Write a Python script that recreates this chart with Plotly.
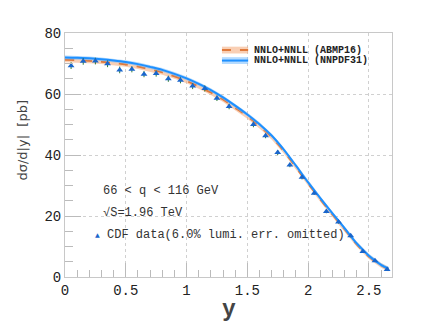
import plotly.graph_objects as go

# theory curves (NNLO+NNLL), central values and band half-widths
y_theory = [0.0, 0.1, 0.2, 0.3, 0.4, 0.5, 0.6, 0.7, 0.8, 0.9, 1.0, 1.1, 1.2, 1.3,
            1.4, 1.5, 1.6, 1.7, 1.8, 1.9, 2.0, 2.1, 2.2, 2.3, 2.4, 2.5, 2.6, 2.66]
nnpdf31 = [72.0, 71.9, 71.7, 71.4, 71.0, 70.5, 69.8, 68.9, 67.9, 66.6, 65.1, 63.3, 61.3, 58.9,
           56.2, 53.3, 50.1, 46.4, 41.8, 36.5, 31.0, 25.9, 20.9, 16.0, 11.0, 7.0, 4.0, 2.8]
abmp16 = [71.2, 71.1, 70.9, 70.6, 70.2, 69.7, 69.0, 68.1, 67.1, 65.8, 64.3, 62.5, 60.5, 58.2,
          55.5, 52.7, 49.5, 45.9, 41.3, 36.0, 30.6, 25.5, 20.5, 15.7, 10.7, 6.7, 3.8, 2.6]
nnpdf31_err = 0.6
abmp16_err = 0.8

# CDF data
y_cdf = [0.05, 0.15, 0.25, 0.35, 0.45, 0.55, 0.65, 0.75, 0.85, 0.95, 1.05, 1.15, 1.25, 1.35,
         1.55, 1.65, 1.75, 1.85, 1.95, 2.05, 2.15, 2.25, 2.35, 2.45, 2.55, 2.65]
cdf = [69.3, 70.7, 70.8, 69.9, 67.9, 68.1, 66.5, 66.7, 65.0, 64.5, 62.6, 61.8, 58.6, 55.9,
       50.0, 46.3, 40.8, 36.7, 32.7, 27.5, 21.5, 18.0, 13.5, 8.4, 5.3, 2.5]
cdf_err = [1.1, 1.1, 1.1, 1.1, 1.1, 1.0, 1.0, 1.0, 1.0, 1.0, 1.0, 1.0, 0.9, 0.9,
           0.9, 0.8, 0.8, 0.7, 0.7, 0.6, 0.6, 0.5, 0.5, 0.4, 0.3, 0.3]

MONO = "Liberation Mono"
BLUE = "#1e90ff"
BLUE_BAND = "rgba(120,190,255,0.55)"
ORANGE = "#e07a3c"
ORANGE_BAND = "rgba(245,175,130,0.6)"

fig = go.Figure()


def add_band(x, c, err, band, line, dash):
    fig.add_trace(go.Scatter(x=x, y=[v + err for v in c], mode="lines",
                             line=dict(width=0), showlegend=False, hoverinfo="skip"))
    fig.add_trace(go.Scatter(x=x, y=[v - err for v in c], mode="lines", fill="tonexty",
                             fillcolor=band, line=dict(width=0), showlegend=False,
                             hoverinfo="skip"))
    fig.add_trace(go.Scatter(x=x, y=c, mode="lines", line=dict(color=line, width=2, dash=dash),
                             line_shape="spline", showlegend=False))


add_band(y_theory, abmp16, abmp16_err, ORANGE_BAND, ORANGE, "dash")
add_band(y_theory, nnpdf31, nnpdf31_err, BLUE_BAND, BLUE, "solid")

fig.add_trace(go.Scatter(
    x=y_cdf, y=cdf, mode="markers",
    marker=dict(symbol="triangle-up", size=6, color="#1a66cc"),
    error_y=dict(type="data", array=cdf_err, color="#2e7d32", thickness=1, width=0),
    showlegend=False,
))

# legend drawn by hand (band + line + label)
for ypos, band, line, dash, label in [
    (0.93, ORANGE_BAND, ORANGE, "dash", "NNLO+NNLL (ABMP16)"),
    (0.887, BLUE_BAND, BLUE, "solid", "NNLO+NNLL (NNPDF31)"),
]:
    fig.add_shape(type="rect", xref="paper", yref="paper", x0=0.48, x1=0.56,
                  y0=ypos - 0.014, y1=ypos + 0.014, fillcolor=band, line_width=0)
    fig.add_shape(type="line", xref="paper", yref="paper", x0=0.48, x1=0.56,
                  y0=ypos, y1=ypos, line=dict(color=line, width=2, dash=dash))
    fig.add_annotation(xref="paper", yref="paper", x=0.572, y=ypos, text="<b>" + label + "</b>",
                       showarrow=False, xanchor="left", yanchor="middle",
                       font=dict(family=MONO, size=10, color="#222"))

ann_font = dict(family=MONO, size=12, color="#333")
fig.add_annotation(xref="paper", yref="paper", x=0.11, y=0.352, text="66 &lt; q &lt; 116 GeV",
                   showarrow=False, xanchor="left", yanchor="middle", font=ann_font)
fig.add_annotation(xref="paper", yref="paper", x=0.11, y=0.262, text="√S=1.96 TeV",
                   showarrow=False, xanchor="left", yanchor="middle", font=ann_font)
fig.add_annotation(xref="paper", yref="paper", x=0.085, y=0.172,
                   text="<span style='color:#1a66cc;font-size:8px'>▲</span> CDF data(6.0% lumi. err. omitted)",
                   showarrow=False, xanchor="left", yanchor="middle", font=ann_font)

# axis titles
fig.add_annotation(xref="paper", yref="paper", x=-0.131, y=0.56, text="dσ/d|y|  [pb]",
                   textangle=-90, showarrow=False, xanchor="center", yanchor="middle",
                   font=dict(family="DejaVu Sans", size=13, color="#444"))
fig.add_annotation(xref="paper", yref="paper", x=0.5, y=-0.135, text="<b>y</b>",
                   showarrow=False, xanchor="center", yanchor="middle",
                   font=dict(family=MONO, size=23, color="#444"))

axis_common = dict(
    showgrid=True, gridcolor="#d0d0d0", griddash="dot", gridwidth=1,
    showline=True, linecolor="#c8c8c8", linewidth=1, mirror=True,
    ticks="inside", tickcolor="#bbbbbb", zeroline=False,
    tickfont=dict(family=MONO, size=14, color="#222"),
)

fig.update_xaxes(range=[0, 2.69], dtick=0.5, ticklen=14,
                 minor=dict(dtick=0.1, ticks="inside", ticklen=7, tickcolor="#bbbbbb",
                            showgrid=False),
                 **axis_common)
fig.update_yaxes(range=[0, 80], dtick=20, ticklen=16,
                 minor=dict(dtick=5, ticks="inside", ticklen=8, tickcolor="#bbbbbb",
                            showgrid=False),
                 **axis_common)

# the page puts the figure 8px in from the top-left corner
fig.update_layout(
    width=428, height=319,
    margin=dict(l=57, r=44, t=25, b=50),
    paper_bgcolor="white", plot_bgcolor="white",
    showlegend=False,
)

fig.write_html("out.html")
